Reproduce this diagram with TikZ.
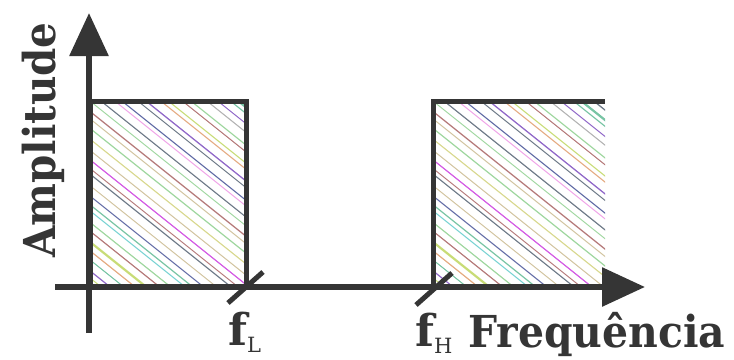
\documentclass[tikz,border=0pt]{standalone}
\usepackage{fontspec}
\setmainfont{DejaVu Serif}
\usetikzlibrary{arrows.meta}
\definecolor{ink}{HTML}{353535}
\definecolor{h1}{HTML}{9ED69E}
\definecolor{h2}{HTML}{D8D88E}
\definecolor{h3}{HTML}{9068C8}
\definecolor{h4}{HTML}{F0A4E8}
\definecolor{h5}{HTML}{76D2D2}
\definecolor{h6}{HTML}{B4B4B4}
\definecolor{h7}{HTML}{B47878}
\definecolor{h8}{HTML}{626CA6}
\definecolor{h9}{HTML}{E4AA80}
\definecolor{h10}{HTML}{D45CE4}
\definecolor{h11}{HTML}{C8DC76}
\definecolor{h12}{HTML}{D2C4A0}
\definecolor{h13}{HTML}{78C4A4}
\definecolor{h14}{HTML}{6E7A88}
\pgfmathdeclarerandomlist{hcols}{{h1}{h2}{h3}{h4}{h5}{h6}{h7}{h8}{h9}{h10}{h11}{h12}{h13}{h14}}
\newcommand\hatchfill[4]{%
  \begin{scope}
    \clip (#1,#2) rectangle (#3,#4);
    \pgfmathsetseed{5}
    \foreach \ii in {0,...,35}{
      \pgfmathsetmacro\hu{#1-236+\ii*11.6+6*rnd}
      \pgfmathsetmacro\hw{rnd>0.93 ? 2.2 : 0.9+0.4*rnd}
      \pgfmathrandomitem\hc{hcols}
      \draw[draw=\hc, line width=\hw pt] (\hu-250,#2-200) -- (\hu+450,#2+360);
    }
  \end{scope}}
\tikzset{
  axis/.style={draw=ink, line width=6pt, -{Triangle[length=43pt,width=38pt]}},
  boxline/.style={draw=ink, line width=5pt, line join=miter},
  tickmark/.style={draw=ink, line width=5pt},
  lbl/.style={text=ink, inner sep=0pt, font=\bfseries\fontsize{44}{44}\selectfont},
}
\begin{document}
\begin{tikzpicture}[x=1pt,y=-1pt]
\useasboundingbox (0,0) rectangle (734,359);
\coordinate (ytop) at (89,13);
\coordinate (ybot) at (89,333);
\coordinate (xl) at (55,287);
\coordinate (xr) at (645,287);
\coordinate (aBL) at (90,287);
\coordinate (aTL) at (90,101);
\coordinate (aTR) at (246,101);
\coordinate (aBR) at (246,287);
\coordinate (bBL) at (433,287);
\coordinate (bTL) at (433,101);
\coordinate (bTR) at (605,101);
\coordinate (t1a) at (228,303);
\coordinate (t1b) at (263,272);
\coordinate (t2a) at (416,305);
\coordinate (t2b) at (452,273);
\hatchfill{90}{101}{246}{287}
\hatchfill{433}{101}{605}{287}
\draw[boxline] (aBL) -- (aTL) -- (aTR) -- (aBR);
\draw[boxline] (bBL) -- (bTL) -- (bTR);
\draw[axis] (ybot) -- (ytop);
\draw[axis] (xl) -- (xr);
\draw[tickmark] (t1a) -- (t1b);
\draw[tickmark] (t2a) -- (t2b);
\node[lbl, anchor=base west] (freq) at (468,347) {\scalebox{0.93}[1]{Frequência}};
\node[lbl, anchor=base west, rotate=90] (amp) at (55,258) {\scalebox{0.92}[1]{Amplitude}};
\node[lbl, anchor=base west] (fl) at (228,345) {f\raisebox{-7pt}{\mdseries\fontsize{21}{21}\selectfont L}};
\node[lbl, anchor=base west] (fh) at (415,346) {f\raisebox{-7pt}{\mdseries\fontsize{21}{21}\selectfont H}};
\end{tikzpicture}
\end{document}
